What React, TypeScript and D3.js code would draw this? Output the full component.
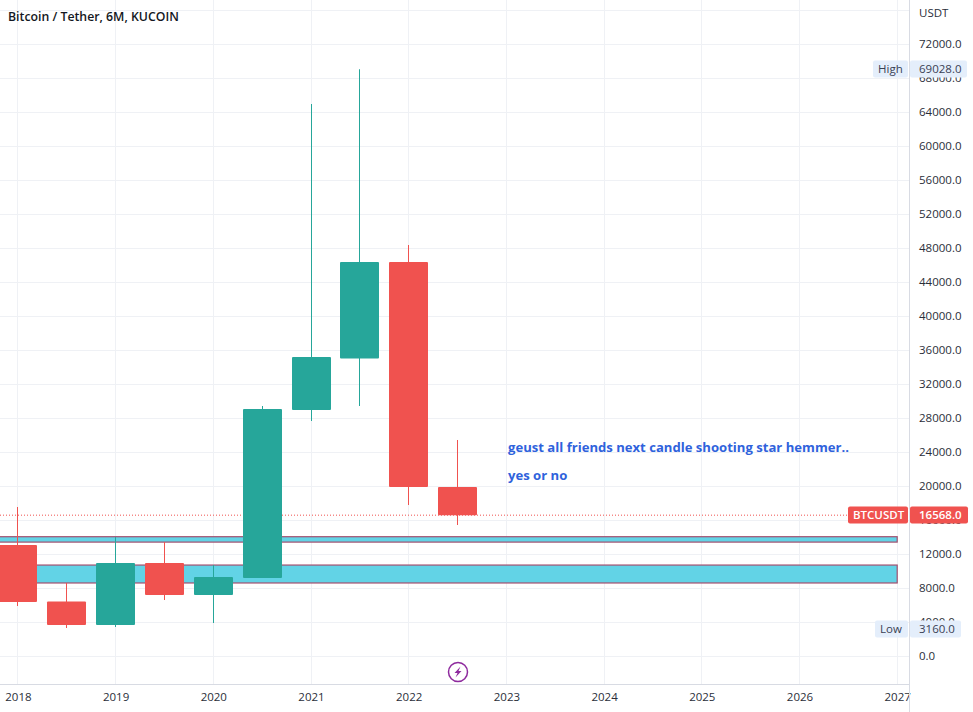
import React, { useEffect, useRef } from 'react';
import * as d3 from 'd3';

const width = 973;
const height = 712;

// half-year candles
const periods = [2018, 2018.5, 2019, 2019.5, 2020, 2020.5, 2021, 2021.5, 2022, 2022.5];
const opens = [13059, 6400, 3647, 10941, 7176, 9176, 28941, 35000, 46353, 19882];
const closes = [6353, 3647, 10941, 7176, 9294, 29059, 35176, 46353, 19882, 16568];
const highs = [17529, 8588, 14000, 13412, 10706, 29412, 64941, 69028, 48353, 25412];
const lows = [5882, 3294, 3412, 6588, 3882, 9176, 27647, 29412, 17765, 15412];

const priceTicks = d3.range(0, 76000, 4000);
const gridTicks = d3.range(0, 80000, 4000);
const yearTicks = [2018, 2019, 2020, 2021, 2022, 2023, 2024, 2025, 2026, 2027];

const zoneTops = [14035, 10700];
const zoneBottoms = [13400, 8590];
const zoneEnd = 2027;

const lastPrice = 16568;
const highPrice = 69028;
const lowPrice = 3160;

const notes = ['geust all friends next candle shooting star hemmer..', 'yes or no'];
const title = 'Bitcoin / Tether, 6M, KUCOIN';

const UP = '#26a69a';
const DOWN = '#f0524f';
const FONT = '"Open Sans", sans-serif';

export default function App() {
  const svgRef = useRef<SVGSVGElement>(null);

  useEffect(() => {
    if (!svgRef.current) return;
    document.body.style.margin = '0';

    const svg = d3.select(svgRef.current);
    svg.selectAll('*').remove();

    const plotRight = 909;
    const plotBottom = 684;

    const x = d3.scaleLinear().domain([2018, 2027]).range([17.9, 897.2]);
    const y = d3.scaleLinear().domain([0, 72000]).range([656, 44]);

    svg.append('rect').attr('width', width).attr('height', height).attr('fill', '#fff');

    // Grid
    const grid = svg.append('g').attr('stroke', '#eff1f5').attr('stroke-width', 1);
    gridTicks.forEach(t => {
      grid.append('line')
        .attr('x1', 0).attr('x2', plotRight)
        .attr('y1', Math.round(y(t)) + 0.5).attr('y2', Math.round(y(t)) + 0.5);
    });
    yearTicks.forEach(yr => {
      grid.append('line')
        .attr('x1', Math.floor(x(yr)) + 0.5).attr('x2', Math.floor(x(yr)) + 0.5)
        .attr('y1', 0).attr('y2', plotBottom);
    });

    // Support zones
    zoneTops.forEach((top, i) => {
      svg.append('rect')
        .attr('x', -2)
        .attr('y', y(top))
        .attr('width', x(zoneEnd) + 2)
        .attr('height', y(zoneBottoms[i]) - y(top))
        .attr('fill', '#62d3e6')
        .attr('stroke', '#a3506f')
        .attr('stroke-width', 1.2);
    });

    // Last price line
    svg.append('line')
      .attr('x1', 0).attr('x2', 848)
      .attr('y1', y(lastPrice)).attr('y2', y(lastPrice))
      .attr('stroke', DOWN)
      .attr('stroke-width', 1)
      .attr('stroke-dasharray', '1 2');

    // Candles
    const bodyWidth = 39;
    periods.forEach((p, i) => {
      const cx = Math.floor(x(p)) + 0.5;
      const color = closes[i] >= opens[i] ? UP : DOWN;
      svg.append('rect')
        .attr('x', cx - 0.5)
        .attr('y', y(highs[i]))
        .attr('width', 1)
        .attr('height', y(lows[i]) - y(highs[i]))
        .attr('fill', color);
      const top = y(Math.max(opens[i], closes[i]));
      const bottom = y(Math.min(opens[i], closes[i]));
      svg.append('rect')
        .attr('x', cx - bodyWidth / 2)
        .attr('y', top)
        .attr('width', bodyWidth)
        .attr('height', bottom - top)
        .attr('rx', 1)
        .attr('fill', color);
    });

    // Notes
    notes.forEach((n, i) => {
      svg.append('text')
        .attr('x', 508)
        .attr('y', 452 + i * 28)
        .attr('font-family', FONT)
        .attr('font-size', 13.1)
        .attr('font-weight', 700)
        .attr('fill', '#2f62dc')
        .text(n);
    });

    svg.append('text')
      .attr('x', 8).attr('y', 21)
      .attr('font-family', FONT)
      .attr('font-size', 12.3)
      .attr('font-weight', 600)
      .attr('fill', '#131722')
      .text(title);

    // Axes
    const yAxis = d3.axisRight(y)
      .tickValues(priceTicks)
      .tickSize(0)
      .tickPadding(10)
      .tickFormat(d => d3.format('.1f')(d as number));
    const yG = svg.append('g').attr('transform', `translate(${plotRight},0)`).call(yAxis);
    yG.select('.domain').remove();
    yG.selectAll('text').attr('font-family', FONT).attr('font-size', 11.5).attr('fill', '#2a2e39');

    const xAxis = d3.axisBottom(x)
      .tickValues(yearTicks)
      .tickSize(0)
      .tickPadding(9)
      .tickFormat(d => String(d));
    const xG = svg.append('g').attr('transform', `translate(0,${plotBottom})`).call(xAxis);
    xG.select('.domain').remove();
    xG.selectAll('text').attr('font-family', FONT).attr('font-size', 11.5).attr('fill', '#2a2e39');

    svg.append('line').attr('x1', 0).attr('x2', plotRight).attr('y1', plotBottom + 0.5).attr('y2', plotBottom + 0.5).attr('stroke', '#d8dbe3');
    svg.append('line').attr('x1', plotRight + 0.5).attr('x2', plotRight + 0.5).attr('y1', 0).attr('y2', height).attr('stroke', '#d8dbe3');

    svg.append('text')
      .attr('x', 919).attr('y', 17)
      .attr('font-family', FONT).attr('font-size', 11.5).attr('fill', '#2a2e39')
      .text('USDT');

    // Price labels on the axis
    const pill = (
      label: string, labelX: number, valueRight: number, value: number,
      bg: string, fg: string, weight: number,
    ) => {
      const cy = y(value);
      const labelY = Math.round(cy) - 8.5;
      svg.append('rect').attr('x', labelX).attr('y', labelY).attr('width', plotRight - labelX - 1).attr('height', 17).attr('rx', 2).attr('fill', bg);
      svg.append('rect').attr('x', plotRight + 1).attr('y', labelY).attr('width', valueRight - plotRight - 1).attr('height', 17).attr('rx', 2).attr('fill', bg);
      svg.append('text').attr('x', labelX + 5).attr('y', labelY + 12)
        .attr('font-family', FONT).attr('font-size', 11.5).attr('font-weight', weight).attr('fill', fg).text(label);
      svg.append('text').attr('x', 919).attr('y', labelY + 12)
        .attr('font-family', FONT).attr('font-size', 11.5).attr('font-weight', weight).attr('fill', fg).text(d3.format('.1f')(value));
    };
    pill('High', 873, 967, highPrice, '#e4eefb', '#3a4154', 400);
    pill('Low', 875, 961, lowPrice, '#e4eefb', '#3a4154', 400);
    pill('BTCUSDT', 848, 968, lastPrice, DOWN, '#fff', 600);

    // Lightning badge
    const badge = svg.append('g').attr('transform', 'translate(458,672)');
    badge.append('circle').attr('r', 9.5).attr('fill', '#fff').attr('stroke', '#8e2a9e').attr('stroke-width', 1.5);
    badge.append('path').attr('d', 'M2.5 -5.5 L-3.5 1 L-0.5 1 L-2.5 5.5 L3.5 -1 L0.5 -1 Z').attr('fill', '#8e2a9e');
  }, []);

  return (
    <svg
      ref={svgRef}
      width={width}
      height={height}
      style={{ display: 'block', position: 'absolute', left: 0, top: 0 }}
    />
  );
}
